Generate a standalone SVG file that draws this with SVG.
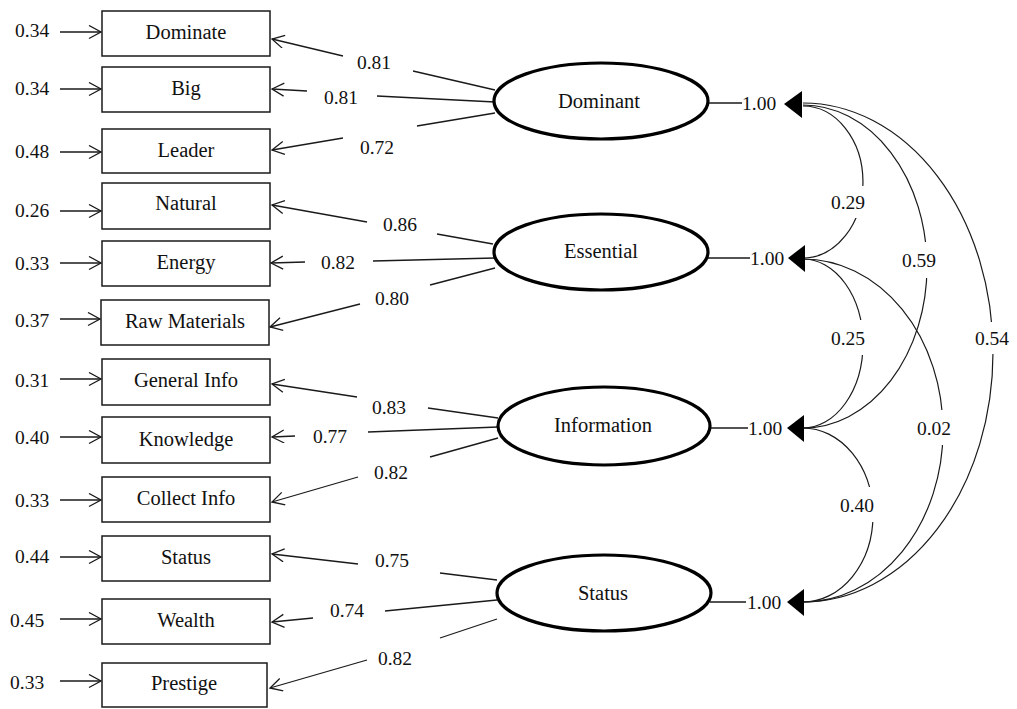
<svg xmlns="http://www.w3.org/2000/svg" width="1017" height="709" viewBox="0 0 1017 709">
<defs>
<marker id="open" markerWidth="16" markerHeight="16" refX="13" refY="7" orient="auto" markerUnits="userSpaceOnUse">
<path d="M1,0.5 L13,7 L1,13.5" fill="none" stroke="#1a1a1a" stroke-width="1.3"/>
</marker>
</defs>
<style>
.box{fill:#fff;stroke:#1a1a1a;stroke-width:1.5}
.lat{fill:#fff;stroke:#000;stroke-width:3.2}
.ln{stroke:#1a1a1a;stroke-width:1.3;fill:none}
.arc{stroke:#1a1a1a;stroke-width:1.2;fill:none}
text{font-family:'Liberation Serif','DejaVu Serif',serif;fill:#111}
.t{font-size:20.5px;text-anchor:middle}
.n{font-size:19.5px;text-anchor:middle}
.ns{font-size:19.5px;text-anchor:start}
.bg{fill:#fff}
.tri{fill:#000}
</style>
<rect width="1017" height="709" fill="#fff"/>

<g id="connectors">
<g class="ln">
<line x1="60" y1="32" x2="101" y2="32" marker-end="url(#open)"/>
<line x1="60" y1="89" x2="101" y2="89" marker-end="url(#open)"/>
<line x1="60" y1="152" x2="101" y2="152" marker-end="url(#open)"/>
<line x1="60" y1="211" x2="101" y2="211" marker-end="url(#open)"/>
<line x1="60" y1="263" x2="101" y2="263" marker-end="url(#open)"/>
<line x1="60" y1="319" x2="100" y2="319" marker-end="url(#open)"/>
<line x1="60" y1="379" x2="101" y2="379" marker-end="url(#open)"/>
<line x1="60" y1="437" x2="101" y2="437" marker-end="url(#open)"/>
<line x1="60" y1="500" x2="101" y2="500" marker-end="url(#open)"/>
<line x1="60" y1="557" x2="101" y2="557" marker-end="url(#open)"/>
<line x1="60" y1="619" x2="101" y2="619" marker-end="url(#open)"/>
<line x1="60" y1="681" x2="101" y2="681" marker-end="url(#open)"/>
</g>
<g class="ln">
<line x1="495" y1="90" x2="413" y2="71"/><line x1="343" y1="56" x2="272" y2="39" marker-end="url(#open)"/>
<line x1="495" y1="102" x2="377" y2="96"/><line x1="307" y1="91" x2="272" y2="89" marker-end="url(#open)"/>
<line x1="495" y1="113" x2="417" y2="126"/><line x1="343" y1="138" x2="272" y2="150" marker-end="url(#open)"/>
<line x1="493" y1="244" x2="437" y2="234"/><line x1="367" y1="222" x2="272" y2="205" marker-end="url(#open)"/>
<line x1="495" y1="258" x2="373" y2="261"/><line x1="305" y1="262" x2="271" y2="263" marker-end="url(#open)"/>
<line x1="495" y1="268" x2="430" y2="285"/><line x1="360" y1="304" x2="270" y2="327" marker-end="url(#open)"/>
<line x1="498" y1="418" x2="428" y2="408"/><line x1="357" y1="397" x2="272" y2="384" marker-end="url(#open)"/>
<line x1="498" y1="427" x2="368" y2="432"/><line x1="295" y1="436" x2="272" y2="437" marker-end="url(#open)"/>
<line x1="498" y1="438" x2="430" y2="457"/><line x1="358" y1="477" x2="272" y2="502" marker-end="url(#open)"/>
<line x1="497" y1="580" x2="440" y2="573"/><line x1="358" y1="564" x2="272" y2="554" marker-end="url(#open)"/>
<line x1="497" y1="600" x2="385" y2="611"/><line x1="313" y1="618" x2="272" y2="622" marker-end="url(#open)"/>
<line x1="497" y1="619" x2="440" y2="638"/><line x1="367" y1="660" x2="270" y2="688" marker-end="url(#open)"/>
</g>
<g class="ln">
<line x1="709" y1="103" x2="742" y2="103"/>
<line x1="708" y1="258" x2="750" y2="258"/>
<line x1="709" y1="428" x2="748" y2="428"/>
<line x1="710" y1="602" x2="746" y2="602"/>
</g>
<g class="arc">
<path d="M803,106 A60,76 0 0 1 803,258"/>
<path d="M803,105 A124,161.5 0 0 1 803,428"/>
<path d="M803,103 A190,249.5 0 0 1 803,602"/>
<path d="M803,259 A60,84.5 0 0 1 803,428"/>
<path d="M803,259 A140,171.5 0 0 1 803,602"/>
<path d="M803,428 A70,87 0 0 1 803,602"/>
</g>
<g class="bg">
<rect x="826" y="186" width="44" height="32"/>
<rect x="897" y="242" width="44" height="36"/>
<rect x="970" y="322" width="44" height="32"/>
<rect x="826" y="320" width="44" height="35"/>
<rect x="912" y="410" width="44" height="35"/>
<rect x="835" y="487" width="44" height="35"/>
</g>
<g class="tri">
<polygon points="784,104 802,91 802,118"/>
<polygon points="788,258 805,245 805,272"/>
<polygon points="787,428 804,415 804,442"/>
<polygon points="787,602 804,589 804,616"/>
</g>
<g>
<text class="ns" x="15" y="37">0.34</text>
<text class="ns" x="15" y="95">0.34</text>
<text class="ns" x="15" y="158">0.48</text>
<text class="ns" x="15" y="217">0.26</text>
<text class="ns" x="15" y="270">0.33</text>
<text class="ns" x="15" y="327">0.37</text>
<text class="ns" x="15" y="387">0.31</text>
<text class="ns" x="15" y="444">0.40</text>
<text class="ns" x="15" y="507">0.33</text>
<text class="ns" x="15" y="563">0.44</text>
<text class="ns" x="10" y="627">0.45</text>
<text class="ns" x="10" y="689">0.33</text>

<text class="n" x="374" y="69">0.81</text>
<text class="n" x="341" y="104">0.81</text>
<text class="n" x="377" y="154">0.72</text>
<text class="n" x="400" y="231">0.86</text>
<text class="n" x="338" y="269">0.82</text>
<text class="n" x="392" y="305">0.80</text>
<text class="n" x="389" y="414">0.83</text>
<text class="n" x="330" y="443">0.77</text>
<text class="n" x="391" y="479">0.82</text>
<text class="n" x="392" y="567">0.75</text>
<text class="n" x="347" y="617">0.74</text>
<text class="n" x="395" y="665">0.82</text>

<text class="ns" x="742" y="110">1.00</text>
<text class="ns" x="750" y="265">1.00</text>
<text class="ns" x="748" y="435">1.00</text>
<text class="ns" x="747" y="609">1.00</text>

<text class="n" x="848" y="209">0.29</text>
<text class="n" x="919" y="267">0.59</text>
<text class="n" x="992" y="345">0.54</text>
<text class="n" x="848" y="345">0.25</text>
<text class="n" x="934" y="435">0.02</text>
<text class="n" x="857" y="512">0.40</text>
</g>
</g>

<g id="node-dominate"><rect class="box" x="102" y="11" width="168" height="45"/><text class="t" x="186" y="39">Dominate</text></g>
<g id="node-big"><rect class="box" x="102" y="67" width="168" height="45"/><text class="t" x="186" y="95">Big</text></g>
<g id="node-leader"><rect class="box" x="102" y="129" width="168" height="44"/><text class="t" x="186" y="157">Leader</text></g>
<g id="node-natural"><rect class="box" x="102" y="183" width="168" height="46"/><text class="t" x="186" y="210">Natural</text></g>
<g id="node-energy"><rect class="box" x="102" y="241" width="168" height="45"/><text class="t" x="186" y="269">Energy</text></g>
<g id="node-raw"><rect class="box" x="101" y="300" width="168" height="45"/><text class="t" x="185" y="328">Raw Materials</text></g>
<g id="node-general"><rect class="box" x="102" y="359" width="168" height="46"/><text class="t" x="186" y="387">General Info</text></g>
<g id="node-knowledge"><rect class="box" x="102" y="417" width="168" height="46"/><text class="t" x="186" y="446">Knowledge</text></g>
<g id="node-collect"><rect class="box" x="102" y="477" width="168" height="45"/><text class="t" x="186" y="505">Collect Info</text></g>
<g id="node-status-item"><rect class="box" x="102" y="536" width="168" height="45"/><text class="t" x="186" y="564">Status</text></g>
<g id="node-wealth"><rect class="box" x="102" y="599" width="168" height="45"/><text class="t" x="186" y="627">Wealth</text></g>
<g id="node-prestige"><rect class="box" x="102" y="663" width="165" height="44"/><text class="t" x="184" y="690">Prestige</text></g>

<g id="node-dominant"><ellipse class="lat" cx="601" cy="101" rx="107" ry="38"/><text class="t" x="599" y="108">Dominant</text></g>
<g id="node-essential"><ellipse class="lat" cx="601" cy="252" rx="107" ry="38"/><text class="t" x="601" y="258">Essential</text></g>
<g id="node-information"><ellipse class="lat" cx="604" cy="426" rx="106" ry="39"/><text class="t" x="603" y="432">Information</text></g>
<g id="node-status"><ellipse class="lat" cx="604" cy="593" rx="107" ry="38"/><text class="t" x="603" y="600">Status</text></g>
</svg>
